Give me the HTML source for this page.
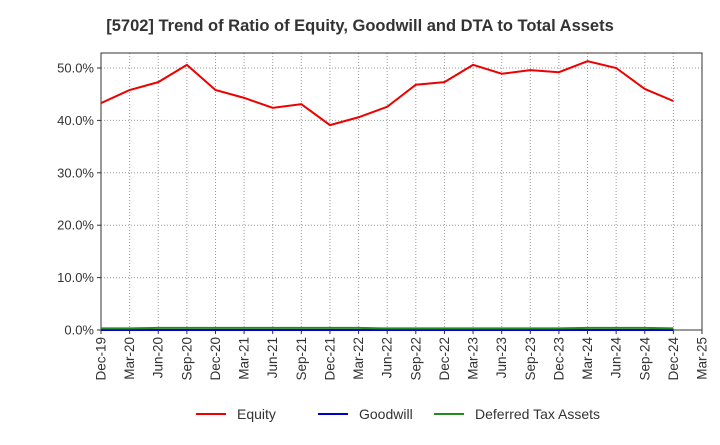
<!DOCTYPE html>
<html><head><meta charset="utf-8"><style>
body{margin:0;background:#fff;font-family:"Liberation Sans",sans-serif;}
</style></head><body>
<svg id="c" width="720" height="440" xmlns="http://www.w3.org/2000/svg">
<text x="360" y="31" text-anchor="middle" font-size="16.5" font-weight="bold" fill="#333">[5702]  Trend of Ratio of Equity, Goodwill and DTA to Total Assets</text>
<g id="grid"></g><g id="axes"></g><g id="series"></g>
<g font-size="14" fill="#333">
<line x1="196" y1="414" x2="226" y2="414" stroke="#e00" stroke-width="2"/><text x="237" y="419">Equity</text>
<line x1="318" y1="414" x2="348" y2="414" stroke="#00c" stroke-width="2"/><text x="359" y="419">Goodwill</text>
<line x1="434" y1="414" x2="464" y2="414" stroke="#228b22" stroke-width="2"/><text x="475" y="419">Deferred Tax Assets</text>
</g>
</svg>
<script>
const categories=["Dec-19","Mar-20","Jun-20","Sep-20","Dec-20","Mar-21","Jun-21","Sep-21","Dec-21","Mar-22","Jun-22","Sep-22","Dec-22","Mar-23","Jun-23","Sep-23","Dec-23","Mar-24","Jun-24","Sep-24","Dec-24","Mar-25"];
const equity=[43.3,45.8,47.3,50.6,45.8,44.3,42.4,43.1,39.1,40.6,42.6,46.8,47.3,50.6,48.9,49.6,49.2,51.3,50.0,46.0,43.7];
const goodwill=[0,0,0,0,0,0,0,0,0,0,0,0,0,0,0,0,0,0,0,0,0];
const dta=[0.3,0.3,0.4,0.4,0.4,0.4,0.4,0.4,0.4,0.4,0.3,0.3,0.3,0.3,0.3,0.3,0.3,0.4,0.4,0.4,0.3];
const yTicks=[0,10,20,30,40,50];
const L=101,R=702,T=53,B=330;
const ns="http://www.w3.org/2000/svg";
const xs=i=>L+(R-L)*i/(categories.length-1);
const ys=v=>B-(B-68)*v/50;
function mk(p,t,a){const e=document.createElementNS(ns,t);for(const k in a)e.setAttribute(k,a[k]);p.appendChild(e);return e;}
const g=document.getElementById('grid'),ax=document.getElementById('axes'),s=document.getElementById('series');
categories.forEach((c,i)=>{const x=xs(i);
 if(i>0&&i<categories.length-1){const l=mk(g,'line',{x1:x,x2:x,y1:T,y2:B,stroke:'#999','stroke-dasharray':'1,2'});}
 mk(ax,'line',{x1:x,x2:x,y1:B,y2:B+4,stroke:'#333'});
 const t=mk(ax,'text',{transform:`translate(${x+4.5},${B+7}) rotate(-90)`,'text-anchor':'end','font-size':13.5,fill:'#333'});t.textContent=c;
 });
yTicks.forEach(v=>{const y=ys(v);
 if(v>0){const l=mk(g,'line',{x1:L,x2:R,y1:y,y2:y,stroke:'#999','stroke-dasharray':'1,2'});}
 mk(ax,'line',{x1:L-4,x2:L,y1:y,y2:y,stroke:'#333'});
 const t=mk(ax,'text',{x:L-7,y:y+4.5,'text-anchor':'end','font-size':13,fill:'#333'});t.textContent=v.toFixed(1)+'%';
 });
const f=mk(ax,'rect',{x:L,y:T,width:R-L,height:B-T,fill:'none',stroke:'#333'});

function line(d,col,name){const p=mk(s,'polyline',{points:d.map((v,i)=>xs(i)+','+ys(v)).join(' '),fill:'none',stroke:col,'stroke-width':2});
 }
line(goodwill,'#00c','goodwill-line');line(dta,'#228b22','dta-line');line(equity,'#e00','equity-line');
</script>
</body></html>
